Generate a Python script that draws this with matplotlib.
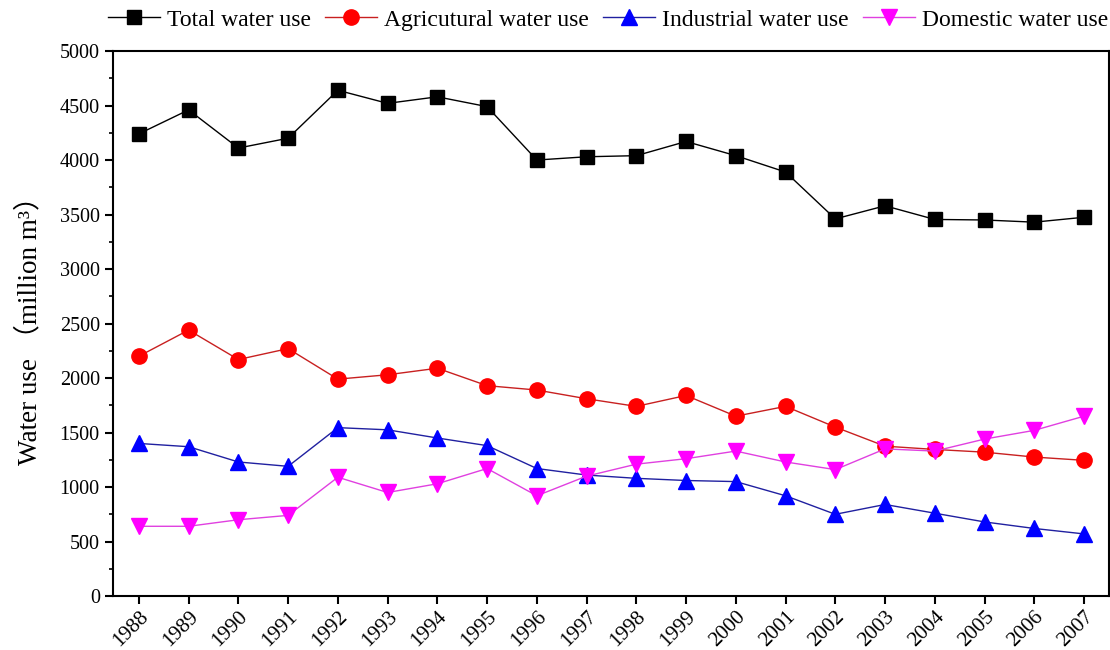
import matplotlib
matplotlib.use("Agg")
import matplotlib.pyplot as plt
from matplotlib.ticker import MultipleLocator

years = list(range(1988, 2008))
total = [4240, 4460, 4110, 4200, 4640, 4520, 4580, 4490, 4000, 4030,
         4040, 4170, 4040, 3890, 3460, 3580, 3455, 3450, 3430, 3475]
agricultural = [2200, 2440, 2170, 2270, 1990, 2030, 2090, 1930, 1890, 1810,
                1740, 1840, 1650, 1740, 1550, 1375, 1345, 1320, 1275, 1245]
industrial = [1400, 1370, 1230, 1190, 1545, 1525, 1450, 1380, 1170, 1110,
              1080, 1060, 1050, 920, 750, 840, 760, 680, 620, 570]
domestic = [640, 640, 700, 740, 1090, 950, 1030, 1170, 920, 1100,
            1210, 1260, 1330, 1230, 1160, 1350, 1330, 1440, 1520, 1650]

plt.rcParams['font.family'] = ['Liberation Serif', 'Noto Sans CJK SC']

fig = plt.figure(figsize=(11.1, 6.5), dpi=100)
ax = fig.add_axes([0.1018, 0.083, 0.8972, 0.8385])

ax.plot(years, total, color='black', lw=1, marker='s', ms=10, mec='black', mfc='black', label='Total water use')
ax.plot(years, agricultural, color='#c82020', lw=1, marker='o', ms=11, mec='red', mfc='red', label='Agricutural water use')
ax.plot(years, industrial, color='#2020a0', lw=1, marker='^', ms=12, mec='blue', mfc='blue', label='Industrial water use')
ax.plot(years, domestic, color='#e040e0', lw=1, marker='v', ms=12, mec='magenta', mfc='magenta', label='Domestic water use')

ax.set_xlim(1987.48, 2007.5)
ax.set_ylim(0, 5000)
ax.set_xticks(years)
ax.set_xticklabels([str(y) for y in years], rotation=45, ha='right', rotation_mode='anchor')
ax.yaxis.set_major_locator(MultipleLocator(500))
ax.yaxis.set_minor_locator(MultipleLocator(250))
ax.tick_params(axis='both', which='major', direction='out', length=6, width=1.5, labelsize=14.5, top=False, right=False)
ax.tick_params(axis='x', labelsize=15.2, pad=2)
ax.tick_params(axis='y', which='minor', direction='out', length=3, width=1.2, right=False)
for s in ax.spines.values():
    s.set_linewidth(1.5)

ax.set_ylabel('Water use （million m³）', fontsize=19.5)
ax.yaxis.set_label_coords(-0.071, 0.5)

ax.legend(loc='center right', bbox_to_anchor=(1.009, 1.057), ncol=4, frameon=False,
          fontsize=17, handlelength=2.2, handletextpad=0.3, columnspacing=0.6, borderaxespad=0.0)

fig.savefig('out.png', dpi=100)
